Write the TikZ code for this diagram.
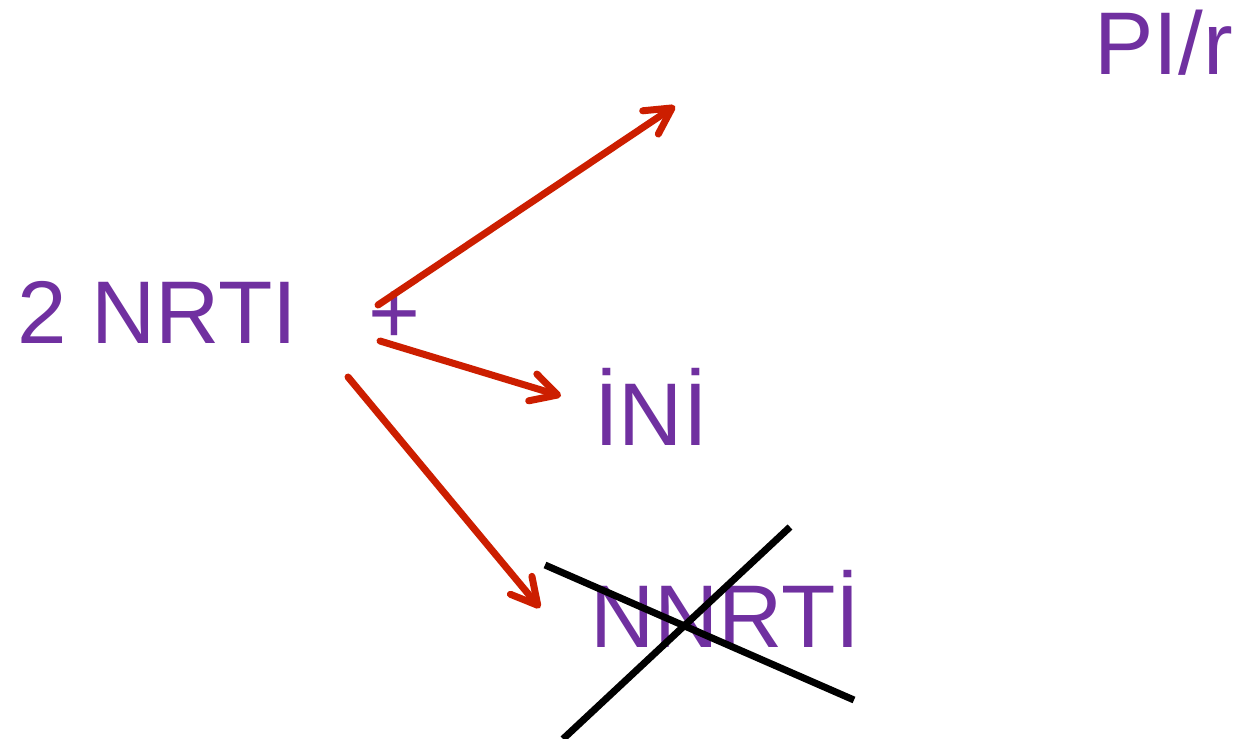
\documentclass[tikz,border=0pt]{standalone}
\usepackage{fontspec}
\setmainfont{Liberation Sans}
\usetikzlibrary{arrows.meta}
\definecolor{drugpurple}{RGB}{112,48,160}
\definecolor{arrowred}{RGB}{204,30,0}
\begin{document}
\begin{tikzpicture}[x=1pt,y=-1pt,
  lbl/.style={font=\fontsize{89}{100}\selectfont, text=drugpurple, inner sep=0pt, anchor=base west},
  redarrow/.style={draw=arrowred, line width=7pt, line cap=round,
    -{Straight Barb[length=26pt,width=28pt,line cap=round,line join=round]}},
  crossline/.style={draw=black, line width=7pt}]
\useasboundingbox (0,0) rectangle (1240,739);
\node[lbl] (pi) at (1094,74) {PI/r};
\node[lbl] (nrti) at (17,343) {2 NRTI};
\node[lbl, anchor=base] (plus) at (394,343) {+};
\node[lbl] (ini) at (594,445) {İNİ};
\node[lbl] (nnrti) at (590,647) {NNRTİ};
\coordinate (s1) at (378,305);
\coordinate (t1) at (675,106);
\coordinate (s2) at (380,341);
\coordinate (t2) at (561,396);
\coordinate (s3) at (348,377);
\coordinate (t3) at (540,608);
\draw[redarrow] (s1) -- (t1);
\draw[redarrow] (s2) -- (t2);
\draw[redarrow] (s3) -- (t3);
\coordinate (c1a) at (545,565);
\coordinate (c1b) at (854,700);
\coordinate (c2a) at (790,527);
\coordinate (c2b) at (563,739);
\draw[crossline] (c1a) -- (c1b);
\draw[crossline] (c2a) -- (c2b);
\end{tikzpicture}
\end{document}
